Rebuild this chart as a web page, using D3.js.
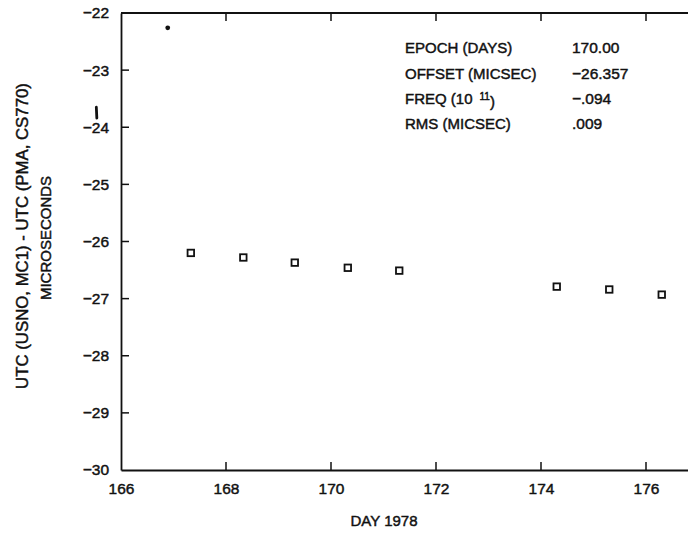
<!DOCTYPE html>
<html>
<head>
<meta charset="utf-8">
<script src="https://cdn.jsdelivr.net/npm/d3@7"></script>
<style>
  html, body { margin: 0; padding: 0; background: #fff; }
  svg { display: block; }
  text { font-family: "Liberation Sans", Arial, Helvetica, sans-serif; fill: #111; stroke: #111; stroke-width: 0.45px; }
</style>
</head>
<body>
<svg id="chart" width="688" height="535"></svg>
<script>
// ---- data ----
const days = [167.33, 168.33, 169.31, 170.32, 171.30, 174.30, 175.30, 176.30];
const offsets = [-26.20, -26.28, -26.37, -26.46, -26.51, -26.79, -26.84, -26.93];
const dotDay = [166.89];
const dotValue = [-22.26];
const strayDay = [165.53];
const strayRange = [-23.65, -23.84];
const xTicks = [166, 168, 170, 172, 174, 176];
const yTicks = [-22, -23, -24, -25, -26, -27, -28, -29, -30];
const fitLabels = ["EPOCH (DAYS)", "OFFSET (MICSEC)", "FREQ (10", "RMS (MICSEC)"];
const fitValues = ["170.00", "\u221226.357", "\u2212.094", ".009"];
const yTitle = ["UTC (USNO, MC1) - UTC (PMA, CS770)", "MICROSECONDS"];
const xTitle = "DAY 1978";

// ---- layout ----
const svg = d3.select("#chart");
const pLeft = 121, pTop = 13, pBottom = 470;
const x = d3.scaleLinear().domain([166, 177]).range([pLeft, pLeft + 11 * 52.5]);
const y = d3.scaleLinear().domain([-30, -22]).range([pBottom, pTop]);

const ink = "#111";
const fam = "Liberation Sans, Arial, sans-serif";

const axB = d3.axisBottom(x).tickValues(xTicks).tickSize(0).tickPadding(13).tickFormat(d3.format("d"));
const gB = svg.append("g").attr("transform", `translate(0,${pBottom})`).call(axB);
gB.select(".domain").attr("stroke", ink).attr("stroke-width", 1.8);
gB.selectAll("text").attr("font-size", 15.5).attr("fill", ink).attr("font-family", fam);

const axL = d3.axisLeft(y).tickValues(yTicks).tickSize(0).tickPadding(12)
  .tickFormat(d => "\u2212" + Math.abs(d));
const gL = svg.append("g").attr("transform", `translate(${pLeft},0)`).call(axL);
gL.select(".domain").attr("stroke", ink).attr("stroke-width", 1.8);
gL.selectAll("text").attr("font-size", 15.5).attr("fill", ink).attr("font-family", fam);

// top spine
svg.append("line").attr("x1", pLeft).attr("x2", x(177)).attr("y1", y(-22)).attr("y2", y(-22))
  .attr("stroke", ink).attr("stroke-width", 1.8);

// inward ticks
const tl = 8;
svg.append("g").selectAll("line").data(xTicks.filter(d => d !== 166)).join("line")
  .attr("x1", d => x(d)).attr("x2", d => x(d)).attr("y1", pBottom).attr("y2", pBottom - tl)
  .attr("stroke", ink).attr("stroke-width", 1.5);
svg.append("g").selectAll("line").data(xTicks.filter(d => d !== 166)).join("line")
  .attr("x1", d => x(d)).attr("x2", d => x(d)).attr("y1", y(-22)).attr("y2", y(-22) + tl)
  .attr("stroke", ink).attr("stroke-width", 1.5);
svg.append("g").selectAll("line").data(yTicks.filter(d => d !== -22 && d !== -30)).join("line")
  .attr("x1", pLeft).attr("x2", pLeft + tl).attr("y1", d => y(d)).attr("y2", d => y(d))
  .attr("stroke", ink).attr("stroke-width", 1.5);

// data squares
const s = 6.5;
svg.append("g").selectAll("rect").data(days.map((d, i) => [d, offsets[i]])).join("rect")
  .attr("x", d => x(d[0]) - s / 2).attr("y", d => y(d[1]) - s / 2)
  .attr("width", s).attr("height", s)
  .attr("fill", "none").attr("stroke", ink).attr("stroke-width", 1.8);

// filled dot
svg.append("g").selectAll("circle").data(dotDay.map((d, i) => [d, dotValue[i]])).join("circle")
  .attr("cx", d => x(d[0])).attr("cy", d => y(d[1])).attr("r", 2.4).attr("fill", ink);

// stray vertical mark left of the axis
svg.append("g").selectAll("line").data(strayDay).join("line")
  .attr("x1", d => x(d)).attr("x2", d => x(d) + 0.5)
  .attr("y1", y(strayRange[0])).attr("y2", y(strayRange[1]))
  .attr("stroke", ink).attr("stroke-width", 2.8).attr("stroke-linecap", "round");

// fit annotation
const ann = svg.append("g");
const rowY = [48, 74, 99, 124];
fitLabels.forEach((t, i) => {
  const tx = ann.append("text").attr("x", 405).attr("y", rowY[i]).attr("font-size", 15).attr("dy", "0.35em");
  tx.append("tspan").text(t);
  if (i === 2) {
    tx.append("tspan").attr("dx", 7).attr("dy", "-0.45em").attr("font-size", 10).text("11");
    tx.append("tspan").attr("dy", "0.45em").text(")");
  }
  ann.append("text").attr("x", 572).attr("y", rowY[i]).attr("font-size", 15.5).attr("dy", "0.35em").text(fitValues[i]);
});

// axis titles
svg.append("text").attr("x", 384).attr("y", 521).attr("text-anchor", "middle")
  .attr("font-size", 15).attr("dy", "0.35em").text(xTitle);
svg.append("text").attr("transform", "translate(22,236) rotate(-90)").attr("text-anchor", "middle")
  .attr("font-size", 16.8).attr("dy", "0.35em").text(yTitle[0]);
svg.append("text").attr("transform", "translate(46,238) rotate(-90)").attr("text-anchor", "middle")
  .attr("font-size", 15).attr("dy", "0.35em").text(yTitle[1]);
</script>
</body>
</html>
